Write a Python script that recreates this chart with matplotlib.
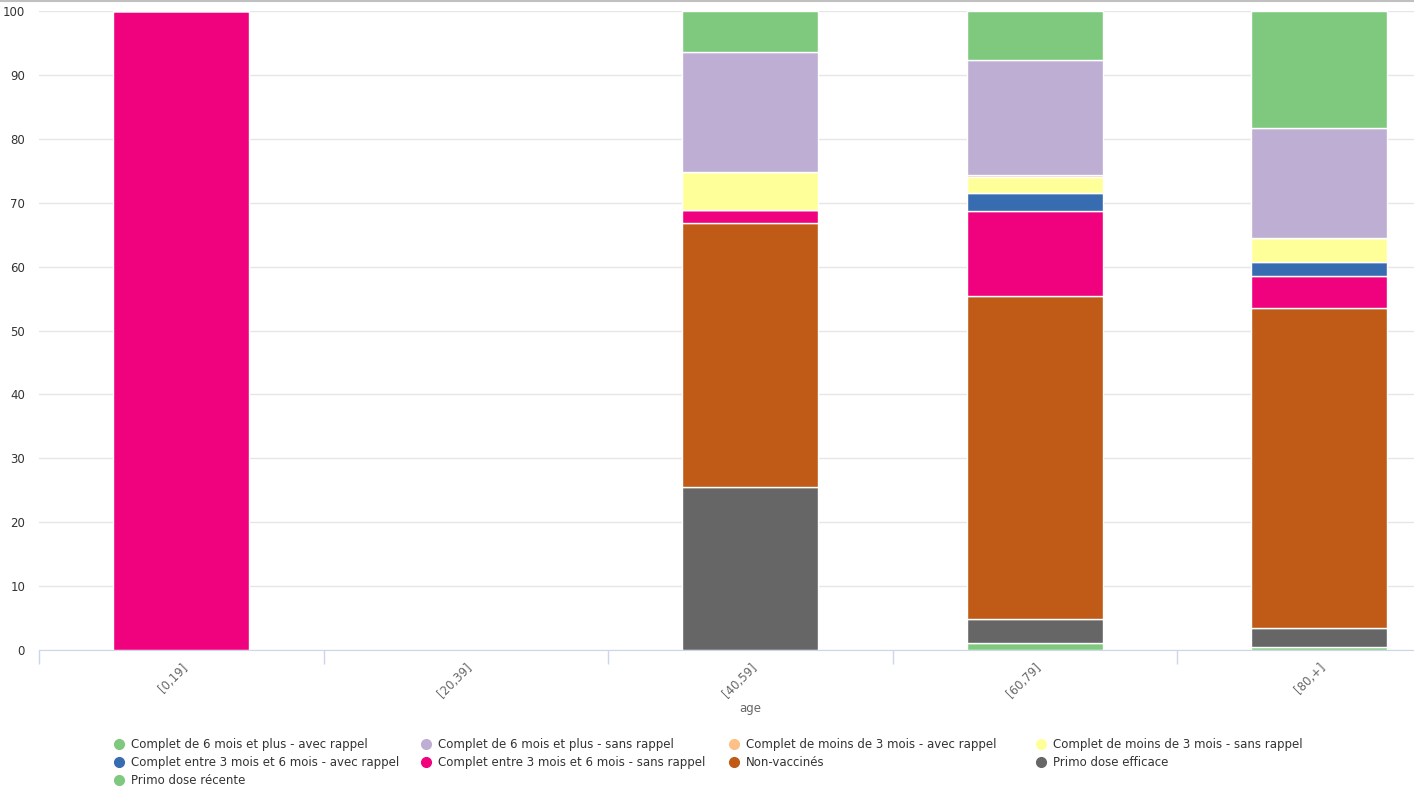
import numpy as np
import matplotlib
matplotlib.use("Agg")
import matplotlib.pyplot as plt
from matplotlib.lines import Line2D

plt.rcParams['font.family'] = ['DejaVu Sans']

categories = ["[0,19]", "[20,39]", "[40,59]", "[60,79]", "[80,+]"]

# series in legend order (first one is drawn on top of the stack)
series_names = [
    "Complet de 6 mois et plus - avec rappel",
    "Complet de 6 mois et plus - sans rappel",
    "Complet de moins de 3 mois - avec rappel",
    "Complet de moins de 3 mois - sans rappel",
    "Complet entre 3 mois et 6 mois - avec rappel",
    "Complet entre 3 mois et 6 mois - sans rappel",
    "Non-vaccinés",
    "Primo dose efficace",
    "Primo dose récente",
]
complet_6_avec = [0, 0, 6.4, 7.7, 18.3]
complet_6_sans = [0, 0, 18.8, 17.9, 17.2]
complet_3_avec = [0, 0, 0, 0.3, 0]
complet_3_sans = [0, 0, 5.9, 2.6, 3.8]
complet_36_avec = [0, 0, 0, 2.85, 2.2]
complet_36_sans = [100, 0, 2.0, 13.25, 5.0]
non_vaccines = [0, 0, 41.4, 50.6, 50.0]
primo_efficace = [0, 0, 25.5, 3.65, 3.1]
primo_recente = [0, 0, 0, 1.15, 0.4]

series_values = [complet_6_avec, complet_6_sans, complet_3_avec, complet_3_sans,
                 complet_36_avec, complet_36_sans, non_vaccines, primo_efficace,
                 primo_recente]
colors = ["#7fc97f", "#beaed4", "#fdc086", "#ffff99", "#386cb0",
          "#f0027f", "#bf5b17", "#666666", "#7fc97f"]

fig = plt.figure(figsize=(14.14, 7.95), dpi=100)
ax = fig.add_axes([39 / 1414, 145 / 795, 1375 / 1414, 639 / 795])

x = np.arange(len(categories))
bottom = np.zeros(len(categories))
for name, vals, col in zip(series_names[::-1], series_values[::-1], colors[::-1]):
    vals = np.array(vals, dtype=float)
    ax.bar(x, vals, width=0.478, bottom=bottom, color=col,
           edgecolor="white", linewidth=1, zorder=3)
    bottom += vals

ax.set_yticks(np.arange(0, 101, 10))
ax.yaxis.grid(True, color="#e6e6e6", linewidth=1, zorder=0)
ax.tick_params(axis="y", length=0, pad=10, labelsize=8.5, labelcolor="#333333")

for s in ["top", "right", "left"]:
    ax.spines[s].set_visible(False)
ax.spines["bottom"].set_color("#ccd6eb")
ax.spines["bottom"].set_zorder(4)

ax.set_xticks(x)
ax.set_xticklabels(categories, rotation=45, ha="right", rotation_mode="anchor",
                   fontsize=8.5, color="#666666")
ax.tick_params(axis="x", which="major", length=0, pad=8)
ax.set_xticks(np.arange(-0.5, 5, 1), minor=True)
ax.tick_params(axis="x", which="minor", length=10, color="#ccd6eb", width=1)

# the plot area is cut at the right edge of the image
ax.set_xlim(-0.5, 4.333)
ax.set_ylim(0, 100)

ax.set_xlabel("age", fontsize=8.5, color="#666666")
ax.xaxis.set_label_coords((750 - 39) / 1375, -52 / 639)

# legend: 4 fixed-width columns, filled row by row
legend_handles = [Line2D([0], [0], marker="o", linestyle="", markersize=7,
                         markerfacecolor=c, markeredgecolor=c) for c in colors]
col_x = [114, 421, 729, 1036]
for c in range(4):
    idx = list(range(c, len(series_names), 4))
    fig.legend([legend_handles[i] for i in idx], [series_names[i] for i in idx],
               loc="upper left", bbox_to_anchor=(col_x[c] / 1414, 1 - 738 / 795),
               frameon=False, fontsize=8.5, handletextpad=0.5, labelspacing=0.42,
               handlelength=0.9, borderaxespad=0, borderpad=0,
               labelcolor="#333333")

fig.add_artist(Line2D([0, 1], [1 - 0.5 / 795, 1 - 0.5 / 795],
                      transform=fig.transFigure, color="#c0c0c0", linewidth=1.5))

fig.savefig("out.png", dpi=100)
